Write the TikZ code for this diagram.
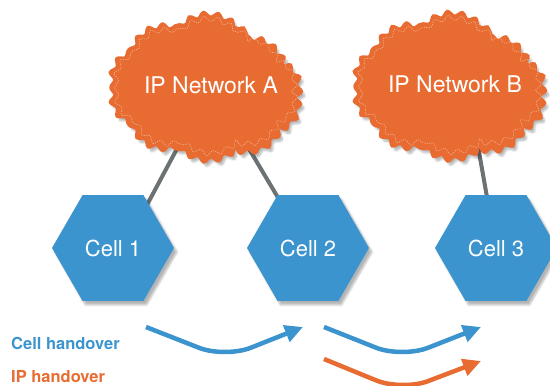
\documentclass[tikz,border=0pt]{standalone}
\usepackage{fontspec}
\setmainfont{TeX Gyre Heros}
\usepackage{xcolor}
\usepackage{tikz}
\usetikzlibrary{positioning,shapes.geometric,shapes.symbols,arrows.meta,shadows.blur,decorations.pathmorphing,backgrounds}
\definecolor{netorange}{RGB}{232,108,50}
\definecolor{cellblue}{RGB}{59,148,206}
\definecolor{linkgray}{RGB}{108,114,115}

\begin{document}
\begin{tikzpicture}[x=1pt,y=-1pt,
    cellhex/.style={regular polygon, regular polygon sides=6, minimum size=122pt, inner sep=0pt,
        fill=cellblue, text=white, font=\fontsize{22}{26}\selectfont,
        blur shadow={shadow xshift=3pt, shadow yshift=-4pt, shadow blur steps=6, shadow opacity=30}},
    ipcloud/.style={cloud, cloud puffs=10, cloud puff arc=90, cloud ignores aspect,
        minimum width=190pt, minimum height=136pt, inner sep=0pt,
        fill=netorange, draw=netorange, line width=3pt, text=white, font=\fontsize{23}{27}\selectfont,
        decorate, decoration={snake, segment length=14pt, amplitude=2.5pt},
        blur shadow={shadow xshift=3pt, shadow yshift=-4pt, shadow blur steps=6, shadow opacity=30}},
    cloudseam/.style={cloud, cloud puffs=10, cloud puff arc=90, cloud ignores aspect,
        minimum width=182pt, minimum height=128pt, inner sep=0pt,
        draw=white!50!netorange, line width=0.6pt, dash pattern=on 1.2pt off 1.2pt,
        decorate, decoration={snake, segment length=13.4pt, amplitude=2.5pt}},
    link/.style={draw=linkgray, line width=4pt},
    handover/.style={line width=4.5pt, rounded corners=28pt, -{Triangle[length=18pt,width=17pt]}},
    legend/.style={anchor=west, inner sep=0pt, font=\fontsize{16.5}{20}\selectfont\bfseries}
]
\useasboundingbox (0,0) rectangle (550,386);

% IP networks
\node[ipcloud] (netA) at (211,85) {IP Network A};
\node[cloudseam] (seamA) at (211,85) {};
\node[ipcloud] (netB) at (455,84) {IP Network B};
\node[cloudseam] (seamB) at (455,84) {};

% Cells
\node[cellhex] (cell1) at (113,248) {Cell 1};
\node[cellhex] (cell2) at (308,248) {Cell 2};
\node[cellhex] (cell3) at (496,248) {Cell 3};

% Links between networks and cells
\begin{scope}[on background layer]
\draw[link] (netA.center) -- ([xshift=11pt]cell1.center);
\draw[link] (netA.center) -- (cell2.center);
\draw[link] ([xshift=12pt]netB.center) -- (cell3.center);
\end{scope}

% Handover arrows
\coordinate (cellhoA) at (146,327);
\coordinate (cellhoB) at (303,327);
\coordinate (cellhoC) at (324,327);
\coordinate (cellhoD) at (481,327);
\coordinate (iphoA) at (324,359);
\coordinate (iphoB) at (481,361);
\draw[handover, cellblue] (cellhoA) -- (225,358) -- (cellhoB);
\draw[handover, cellblue] (cellhoC) -- (402,358) -- (cellhoD);
\draw[handover, netorange] (iphoA) -- (402,391) -- (iphoB);

% Legend
\node[legend, text=cellblue] (cellho) at (11,343) {Cell handover};
\node[legend, text=netorange] (ipho) at (11,377) {IP handover};
\end{tikzpicture}
\end{document}
